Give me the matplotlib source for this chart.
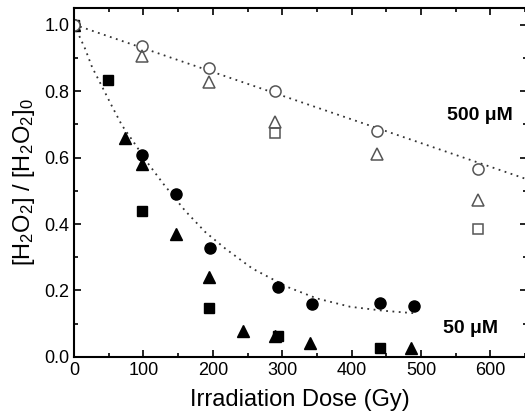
import matplotlib
matplotlib.use('Agg')
import matplotlib.pyplot as plt
from matplotlib.ticker import MultipleLocator

plt.rcParams['font.family'] = ['Liberation Sans', 'DejaVu Sans']
plt.rcParams['mathtext.fontset'] = 'custom'
plt.rcParams['mathtext.rm'] = 'Liberation Sans'
plt.rcParams['mathtext.it'] = 'Liberation Sans:italic'

# 50 uM, filled symbols
circ50_x = [0, 98, 147, 196, 294, 343, 441, 490]
circ50_y = [1.0, 0.607, 0.49, 0.327, 0.211, 0.158, 0.163, 0.153]
sq50_x = [0, 49, 98, 195, 294, 441]
sq50_y = [1.0, 0.834, 0.438, 0.148, 0.063, 0.026]
tri50_x = [0, 73, 98, 147, 195, 243, 289, 340, 486]
tri50_y = [1.0, 0.66, 0.58, 0.37, 0.24, 0.079, 0.063, 0.041, 0.026]

# 500 uM, open symbols
circ500_x = [0, 98, 194, 290, 437, 582]
circ500_y = [1.0, 0.935, 0.869, 0.80, 0.679, 0.565]
tri500_x = [98, 194, 290, 437, 582]
tri500_y = [0.904, 0.827, 0.707, 0.61, 0.471]
sq500_x = [290, 582]
sq500_y = [0.674, 0.386]

# dotted fit curves
fit50_x = [0, 4, 16, 26, 40, 54, 69, 88, 106, 129, 160, 189, 218, 257, 307, 350, 398, 446, 494]
fit50_y = [1.0, 0.982, 0.927, 0.872, 0.815, 0.757, 0.697, 0.64, 0.584, 0.52, 0.44, 0.376,
           0.326, 0.266, 0.211, 0.176, 0.151, 0.139, 0.131]
fit500_x = [0, 652]
fit500_y = [1.0, 0.535]

fig = plt.figure(figsize=(5.25, 4.18), dpi=100)
ax = fig.add_axes([0.141, 0.146, 0.862, 0.835])

ax.plot(fit50_x, fit50_y, linestyle=(0, (1, 2.5)), color='#333333', linewidth=1.3)
ax.plot(fit500_x, fit500_y, linestyle=(0, (1, 2.5)), color='#333333', linewidth=1.3)

ms = 7.5
ax.plot(sq50_x, sq50_y, 's', color='black', ms=ms - 0.5, ls='none')
ax.plot(tri50_x, tri50_y, '^', color='black', ms=ms + 0.5, ls='none')
ax.plot(circ50_x, circ50_y, 'o', color='black', ms=ms + 0.5, ls='none')

ax.plot(circ500_x, circ500_y, 'o', mfc='white', mec='#555555', mew=1.1, ms=ms + 0.5, ls='none')
ax.plot(tri500_x, tri500_y, '^', mfc='none', mec='#555555', mew=1.1, ms=ms + 0.5, ls='none')
ax.plot(sq500_x, sq500_y, 's', mfc='none', mec='#555555', mew=1.1, ms=ms - 0.5, ls='none')

ax.text(538, 0.727, '500 μM', fontsize=14, fontweight='bold', va='center', ha='left')
ax.text(532, 0.087, '50 μM', fontsize=14, fontweight='bold', va='center', ha='left')

ax.set_xlim(0, 652)
ax.set_ylim(0, 1.05)
ax.xaxis.set_major_locator(MultipleLocator(100))
ax.xaxis.set_minor_locator(MultipleLocator(50))
ax.yaxis.set_major_locator(MultipleLocator(0.2))
ax.yaxis.set_minor_locator(MultipleLocator(0.1))
ax.yaxis.set_major_formatter(matplotlib.ticker.FormatStrFormatter('%.1f'))
ax.tick_params(which='both', direction='in', top=True, right=True, labelsize=13, width=1.2)
ax.tick_params(which='major', length=5)
ax.tick_params(which='minor', length=3)
for s in ax.spines.values():
    s.set_linewidth(1.5)

ax.set_xlabel('Irradiation Dose (Gy)', fontsize=17, labelpad=7)
ax.set_ylabel('[H$_2$O$_2$] / [H$_2$O$_2$]$_0$', fontsize=17, labelpad=5)

fig.savefig('out.png', dpi=100)
